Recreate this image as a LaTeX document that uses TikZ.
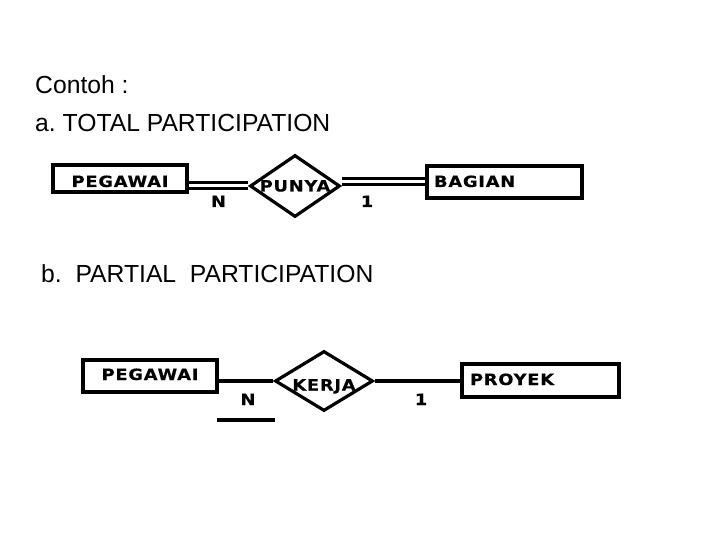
\documentclass[tikz,border=0pt]{standalone}
\usepackage{fontspec}
\setmainfont{Liberation Sans}
\newfontfamily\erfont[LetterSpace=5,FakeStretch=1.15,FakeBold=0.4]{DejaVu Sans Bold}
\usetikzlibrary{shapes.geometric}
\frenchspacing
\begin{document}
\begin{tikzpicture}[x=1pt,y=-1pt,
  title/.style={anchor=base west,inner sep=0pt,font=\fontsize{24.7}{27}\selectfont},
  erf/.style={font=\erfont\fontsize{15.5}{17}\selectfont},
  entity/.style={draw,line width=3.2pt,inner sep=0pt,erf},
  rel/.style={draw,diamond,line width=3.2pt,inner sep=0pt,erf},
  card/.style={inner sep=0pt,anchor=base,erf},
  conn/.style={line width=3.2pt},
  dconn/.style={line width=3pt,double,double distance=3pt}]
\useasboundingbox (0,0) rectangle (720,540);
\node[title] (t1) at (35,93.3) {Contoh :};
\node[title] (t2) at (35,132) {a. TOTAL PARTICIPATION};
\node[title] (t3) at (41,282) {b.\ \ PARTIAL\ \ PARTICIPATION};
% top
\node[entity,minimum width=134pt,minimum height=27pt] (peg1) at (120,178.5) {\raisebox{-8.5pt}[0pt][0pt]{PEGAWAI}};
\node[rel,minimum width=90pt,minimum height=62pt] (punya) at (295,186) {\makebox[0pt]{\raisebox{-5.5pt}[0pt][0pt]{PUNYA}}};
\node[entity,minimum height=32pt,text width=141pt,inner xsep=7pt,align=left] (bagian) at (504.5,182) {\raisebox{-5pt}[0pt][0pt]{BAGIAN}};
\draw[dconn] (peg1.east |- punya.west) -- (punya.west);
\draw[dconn] (punya.east |- bagian.west) -- (bagian.west);
\node[card] (n1) at (218.5,207) {N};
\node[card] (c1) at (367,207) {1};
% bottom
\node[entity,minimum width=134pt,minimum height=32pt] (peg2) at (150,376) {\raisebox{-4pt}[0pt][0pt]{PEGAWAI}};
\node[rel,minimum width=98pt,minimum height=60pt] (kerja) at (324,381) {\makebox[0pt]{\raisebox{-9.5pt}[0pt][0pt]{KERJA}}};
\node[entity,minimum height=33pt,text width=141pt,inner xsep=8pt,align=left] (proyek) at (540.5,380.5) {\raisebox{-4.5pt}[0pt][0pt]{PROYEK}};
\draw[conn] (peg2.east |- kerja.west) -- (kerja.west);
\draw[conn] (kerja.east) -- (kerja.east -| proyek.west);
\node[card] (n2) at (248,405) {N};
\node[card] (c2) at (421,405) {1};
\coordinate (u1) at (217,420);
\coordinate (u2) at (275,420);
\draw[conn] (u1) -- (u2);
\end{tikzpicture}
\end{document}
